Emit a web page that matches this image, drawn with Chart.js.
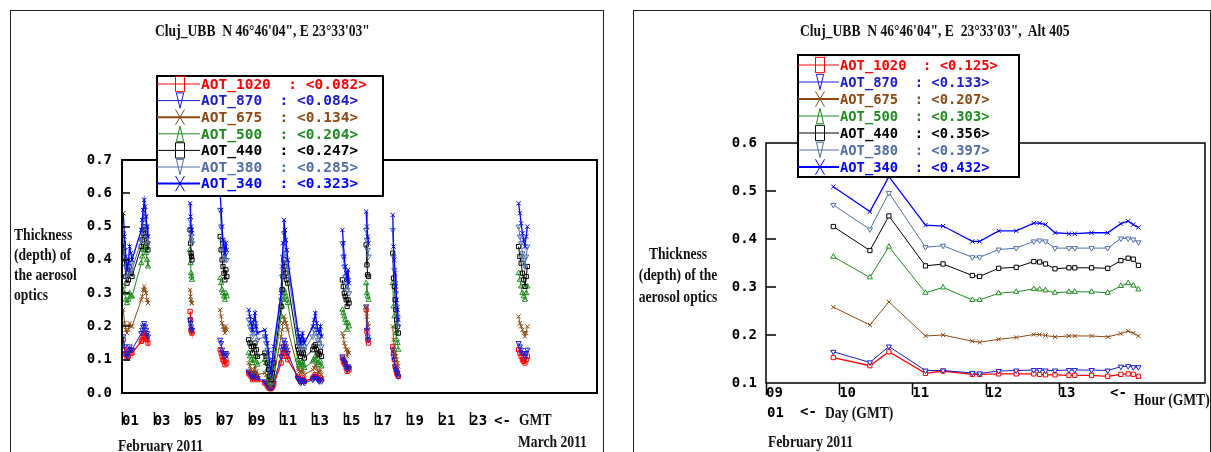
<!DOCTYPE html>
<html>
<head>
<meta charset="utf-8">
<script src="https://cdn.jsdelivr.net/npm/chart.js@4/dist/chart.umd.min.js"></script>
<style>
  body { margin: 0; background: #fff; width: 1211px; height: 452px; overflow: hidden; position: relative; }
  canvas { position: absolute; }
  .panel { position: absolute; border: 1px solid #222; border-bottom: none; }
  .serif { position: absolute; font-family: 'Liberation Serif', 'Times New Roman', serif; font-weight: bold;
           font-size: 17px; line-height: 16px; white-space: pre; transform: scaleX(0.8); transform-origin: 0 50%; color: #111; }
  .mono { position: absolute; font-family: 'DejaVu Sans Mono', monospace; font-weight: bold; font-size: 14px;
          line-height: 14px; white-space: pre; color: #000; }
  .center { text-align: center; transform-origin: 50% 50%; }
</style>
</head>
<body>
<div class="panel" style="left:10px;top:10px;width:592px;height:460px"></div>
<div class="panel" style="left:633px;top:10px;width:576px;height:460px"></div>
<canvas id="febChart" width="593" height="442" style="left:10px;top:10px"></canvas>
<canvas id="dayChart" width="577" height="442" style="left:633px;top:10px"></canvas>

<div class="serif" style="left:155px;top:23px">Cluj_UBB  N 46°46'04", E 23°33'03"</div>
<div class="serif" style="left:14px;top:227px">Thickness</div>
<div class="serif" style="left:14px;top:247px">(depth) of</div>
<div class="serif" style="left:14px;top:267px">the aerosol</div>
<div class="serif" style="left:14px;top:287px">optics</div>
<div class="mono" style="left:494px;top:413px">&lt;-</div>
<div class="serif" style="left:519px;top:412px">GMT</div>
<div class="serif" style="left:118px;top:438px">February 2011</div>
<div class="serif" style="left:518px;top:434px">March 2011</div>

<div class="serif" style="left:800px;top:23px">Cluj_UBB  N 46°46'04", E  23°33'03",  Alt 405</div>
<div class="serif center" style="left:608px;width:140px;top:246px">Thickness</div>
<div class="serif center" style="left:608px;width:140px;top:267px">(depth) of the</div>
<div class="serif center" style="left:608px;width:140px;top:289px">aerosol optics</div>
<div class="mono" style="left:1110px;top:385px">&lt;-</div>
<div class="serif" style="left:1134px;top:392px">Hour (GMT)</div>
<div class="mono" style="left:767px;top:405px">01</div>
<div class="mono" style="left:800px;top:404px">&lt;-</div>
<div class="serif" style="left:825px;top:405px">Day (GMT)</div>
<div class="serif" style="left:768px;top:434px">February 2011</div>

<script>
// series, in legend order
const seriesNames = ['AOT_1020', 'AOT_870', 'AOT_675', 'AOT_500', 'AOT_440', 'AOT_380', 'AOT_340'];
const seriesColors = ['#ff0000', '#1c1cc8', '#8b4a14', '#1e8c1e', '#000000', '#4f6ea8', '#0000ff'];
const seriesMarkers = ['rect', 'triDown', 'crossRot', 'triUp', 'rect', 'triDown', 'crossRot'];
const febMeans = ['0.082', '0.084', '0.134', '0.204', '0.247', '0.285', '0.323'];
const dayMeans = ['0.125', '0.133', '0.207', '0.303', '0.356', '0.397', '0.432'];

// left chart: February 2011, x = day (null = break in the line)
const febTimes = [
  1.08, 1.16, 1.24, 1.32, 1.40, 1.48, 1.56, 1.63,
  2.22, 2.28, 2.34, 2.40, 2.46, 2.52, 2.58, 2.64,
  null,
  5.30, 5.33, 5.36, 5.39, 5.42,
  null,
  7.20, 7.26, 7.32, 7.38, 7.44, 7.50, 7.56, 7.62,
  null,
  9.00, 9.08, 9.16, 9.24, 9.32, 9.40, 9.48, 9.56,
  10.02, 10.10, 10.18, 10.26, 10.34, 10.42, 10.50, 10.58,
  11.05, 11.11, 11.17, 11.23, 11.29, 11.35, 11.41, 11.47,
  12.10, 12.16, 12.22, 12.28, 12.34, 12.40, 12.46, 12.52,
  13.05, 13.13, 13.21, 13.29, 13.37, 13.45, 13.53, 13.60,
  null,
  14.92, 14.98, 15.04, 15.10, 15.16, 15.22, 15.28, 15.34,
  null,
  16.42, 16.47, 16.52, 16.57,
  null,
  18.10, 18.15, 18.20, 18.25, 18.30, 18.35, 18.40, 18.45,
  null,
  26.05, 26.13, 26.21, 26.29, 26.37, 26.45, 26.53, 26.60
];
const aot1020Feb = [
  0.16, 0.13, 0.115, 0.105, 0.11, 0.13, 0.12, 0.12,
  0.155, 0.16, 0.17, 0.18, 0.17, 0.165, 0.16, 0.15,
  null,
  0.245, 0.22, 0.19, 0.185, 0.18,
  null,
  0.13, 0.12, 0.11, 0.10, 0.095, 0.085, 0.10, 0.09,
  null,
  0.06, 0.055, 0.05, 0.04, 0.045, 0.055, 0.045, 0.04,
  0.03, 0.028, 0.022, 0.017, 0.013, 0.013, 0.018, 0.025,
  0.09, 0.11, 0.12, 0.14, 0.13, 0.12, 0.11, 0.10,
  0.05, 0.045, 0.04, 0.035, 0.04, 0.045, 0.04, 0.035,
  0.045, 0.05, 0.055, 0.05, 0.045, 0.04, 0.045, 0.04,
  null,
  0.105, 0.095, 0.09, 0.085, 0.075, 0.065, 0.075, 0.07,
  null,
  0.25, 0.185, 0.16, 0.15,
  null,
  0.14, 0.12, 0.10, 0.08, 0.07, 0.06, 0.055, 0.05,
  null,
  0.13, 0.12, 0.11, 0.10, 0.095, 0.09, 0.10, 0.11
];
const aot870Feb = [
  0.17, 0.14, 0.12, 0.11, 0.12, 0.14, 0.13, 0.13,
  0.18, 0.19, 0.20, 0.21, 0.20, 0.19, 0.18, 0.17,
  null,
  0.22, 0.21, 0.20, 0.19, 0.19,
  null,
  0.16, 0.15, 0.13, 0.12, 0.12, 0.11, 0.12, 0.115,
  null,
  0.065, 0.06, 0.055, 0.045, 0.05, 0.06, 0.05, 0.045,
  0.035, 0.03, 0.025, 0.02, 0.015, 0.015, 0.02, 0.03,
  0.11, 0.13, 0.14, 0.16, 0.15, 0.14, 0.13, 0.12,
  0.045, 0.04, 0.035, 0.03, 0.035, 0.04, 0.035, 0.03,
  0.04, 0.045, 0.05, 0.045, 0.04, 0.035, 0.04, 0.035,
  null,
  0.11, 0.10, 0.095, 0.09, 0.08, 0.07, 0.08, 0.075,
  null,
  0.26, 0.19, 0.17, 0.16,
  null,
  0.13, 0.11, 0.10, 0.08, 0.07, 0.065, 0.06, 0.05,
  null,
  0.15, 0.14, 0.13, 0.12, 0.12, 0.11, 0.12, 0.13
];
const aot675Feb = [
  0.25, 0.21, 0.19, 0.18, 0.19, 0.21, 0.20, 0.20,
  0.28, 0.29, 0.31, 0.32, 0.31, 0.30, 0.28, 0.27,
  null,
  0.31, 0.29, 0.28, 0.27, 0.27,
  null,
  0.25, 0.23, 0.21, 0.20, 0.19, 0.18, 0.20, 0.19,
  null,
  0.09, 0.08, 0.07, 0.06, 0.07, 0.08, 0.065, 0.055,
  0.06, 0.055, 0.045, 0.03, 0.02, 0.02, 0.03, 0.05,
  0.17, 0.19, 0.21, 0.23, 0.22, 0.21, 0.20, 0.19,
  0.075, 0.07, 0.065, 0.06, 0.065, 0.07, 0.06, 0.055,
  0.07, 0.075, 0.085, 0.075, 0.065, 0.06, 0.07, 0.055,
  null,
  0.18, 0.17, 0.15, 0.14, 0.13, 0.11, 0.13, 0.12,
  null,
  0.26, 0.23, 0.21, 0.20,
  null,
  0.20, 0.16, 0.14, 0.12, 0.11, 0.10, 0.09, 0.08,
  null,
  0.23, 0.21, 0.20, 0.19, 0.18, 0.17, 0.18, 0.20
];
const aot500Feb = [
  0.32, 0.30, 0.28, 0.27, 0.28, 0.30, 0.29, 0.29,
  0.39, 0.41, 0.43, 0.44, 0.43, 0.42, 0.40, 0.38,
  null,
  0.43, 0.39, 0.36, 0.35, 0.34,
  null,
  0.345, 0.33, 0.31, 0.30, 0.29, 0.28, 0.30, 0.29,
  null,
  0.12, 0.11, 0.10, 0.09, 0.10, 0.11, 0.095, 0.085,
  0.10, 0.09, 0.07, 0.05, 0.035, 0.03, 0.05, 0.07,
  0.23, 0.26, 0.28, 0.31, 0.30, 0.29, 0.28, 0.27,
  0.10, 0.09, 0.085, 0.08, 0.09, 0.095, 0.085, 0.075,
  0.095, 0.10, 0.11, 0.10, 0.09, 0.085, 0.095, 0.08,
  null,
  0.25, 0.24, 0.23, 0.22, 0.21, 0.19, 0.21, 0.20,
  null,
  0.33, 0.30, 0.29, 0.28,
  null,
  0.33, 0.26, 0.23, 0.20, 0.18, 0.16, 0.15, 0.13,
  null,
  0.36, 0.34, 0.32, 0.30, 0.29, 0.28, 0.30, 0.32
];
const aot440Feb = [
  0.45, 0.39, 0.35, 0.33, 0.34, 0.38, 0.36, 0.35,
  0.44, 0.46, 0.48, 0.50, 0.49, 0.47, 0.45, 0.43,
  null,
  0.49, 0.45, 0.42, 0.41, 0.40,
  null,
  0.47, 0.43, 0.40, 0.38, 0.36, 0.34, 0.37, 0.35,
  null,
  0.16, 0.15, 0.14, 0.12, 0.14, 0.15, 0.13, 0.11,
  0.12, 0.11, 0.09, 0.07, 0.05, 0.04, 0.06, 0.09,
  0.26, 0.31, 0.35, 0.40, 0.38, 0.36, 0.34, 0.33,
  0.14, 0.13, 0.12, 0.11, 0.12, 0.13, 0.12, 0.105,
  0.13, 0.14, 0.145, 0.13, 0.12, 0.115, 0.125, 0.11,
  null,
  0.34, 0.32, 0.30, 0.29, 0.28, 0.26, 0.28, 0.27,
  null,
  0.445, 0.385, 0.355, 0.35,
  null,
  0.42, 0.345, 0.32, 0.28, 0.25, 0.22, 0.20, 0.18,
  null,
  0.44, 0.41, 0.39, 0.36, 0.34, 0.32, 0.35, 0.38
];
const aot380Feb = [
  0.48, 0.43, 0.38, 0.35, 0.36, 0.40, 0.39, 0.37,
  0.46, 0.49, 0.52, 0.55, 0.53, 0.50, 0.47, 0.45,
  null,
  0.52, 0.49, 0.47, 0.46, 0.45,
  null,
  0.55, 0.50, 0.46, 0.43, 0.41, 0.40, 0.42, 0.40,
  null,
  0.22, 0.20, 0.19, 0.17, 0.19, 0.21, 0.18, 0.16,
  0.17, 0.15, 0.13, 0.10, 0.07, 0.05, 0.09, 0.12,
  0.28, 0.35, 0.41, 0.48, 0.45, 0.42, 0.39, 0.37,
  0.17, 0.15, 0.14, 0.13, 0.15, 0.16, 0.14, 0.13,
  0.17, 0.19, 0.20, 0.18, 0.16, 0.15, 0.17, 0.14,
  null,
  0.45, 0.41, 0.38, 0.35, 0.33, 0.31, 0.34, 0.30,
  null,
  0.49, 0.46, 0.43, 0.41,
  null,
  0.49, 0.41, 0.37, 0.33, 0.30, 0.26, 0.23, 0.20,
  null,
  0.50, 0.47, 0.45, 0.42, 0.40, 0.38, 0.41, 0.44
];
const aot340Feb = [
  0.54, 0.47, 0.41, 0.37, 0.39, 0.44, 0.42, 0.40,
  0.49, 0.52, 0.55, 0.58, 0.56, 0.53, 0.50, 0.47,
  null,
  0.57, 0.53, 0.50, 0.49, 0.48,
  null,
  0.60, 0.55, 0.50, 0.46, 0.44, 0.42, 0.45, 0.43,
  null,
  0.25, 0.23, 0.21, 0.19, 0.22, 0.24, 0.20, 0.18,
  0.19, 0.17, 0.15, 0.12, 0.08, 0.06, 0.10, 0.14,
  0.30, 0.38, 0.45, 0.52, 0.49, 0.46, 0.43, 0.40,
  0.19, 0.17, 0.16, 0.15, 0.17, 0.18, 0.16, 0.15,
  0.20, 0.22, 0.24, 0.21, 0.19, 0.18, 0.20, 0.17,
  null,
  0.49, 0.45, 0.41, 0.38, 0.36, 0.34, 0.37, 0.33,
  null,
  0.545, 0.50, 0.47, 0.45,
  null,
  0.535, 0.44, 0.40, 0.36, 0.32, 0.28, 0.25, 0.22,
  null,
  0.57, 0.54, 0.51, 0.48, 0.46, 0.44, 0.47, 0.50
];

// right chart: 1 February 2011, x = hour GMT
const dayHours = [9.92, 10.42, 10.68, 11.18, 11.42, 11.82, 11.92, 12.18, 12.42, 12.66, 12.74,
                  12.82, 12.95, 13.14, 13.22, 13.45, 13.67, 13.85, 13.95, 14.02, 14.09];
const aot1020Day = [0.153, 0.136, 0.165, 0.120, 0.125, 0.118, 0.118, 0.119, 0.119, 0.119, 0.118,
                    0.117, 0.117, 0.116, 0.116, 0.116, 0.114, 0.118, 0.119, 0.118, 0.114];
const aot870Day = [0.165, 0.143, 0.176, 0.126, 0.126, 0.121, 0.120, 0.125, 0.126, 0.127, 0.127,
                   0.126, 0.126, 0.127, 0.127, 0.127, 0.126, 0.134, 0.135, 0.133, 0.133];
const aot675Day = [0.258, 0.221, 0.269, 0.198, 0.200, 0.187, 0.185, 0.191, 0.195, 0.201, 0.201,
                   0.199, 0.196, 0.198, 0.198, 0.198, 0.196, 0.203, 0.208, 0.204, 0.198];
const aot500Day = [0.363, 0.320, 0.384, 0.288, 0.299, 0.273, 0.273, 0.287, 0.290, 0.296, 0.295,
                   0.293, 0.288, 0.290, 0.290, 0.290, 0.288, 0.302, 0.308, 0.303, 0.295];
const aot440Day = [0.426, 0.376, 0.448, 0.344, 0.348, 0.324, 0.322, 0.339, 0.341, 0.353, 0.352,
                   0.348, 0.338, 0.340, 0.340, 0.340, 0.339, 0.355, 0.360, 0.358, 0.345];
const aot380Day = [0.471, 0.420, 0.496, 0.383, 0.386, 0.362, 0.362, 0.378, 0.381, 0.395, 0.397,
                   0.395, 0.381, 0.381, 0.381, 0.381, 0.381, 0.401, 0.401, 0.399, 0.393];
const aot340Day = [0.509, 0.457, 0.530, 0.429, 0.427, 0.395, 0.395, 0.417, 0.417, 0.433, 0.433,
                   0.430, 0.413, 0.411, 0.411, 0.413, 0.413, 0.432, 0.437, 0.430, 0.424];

const febSeries = [aot1020Feb, aot870Feb, aot675Feb, aot500Feb, aot440Feb, aot380Feb, aot340Feb];
const daySeries = [aot1020Day, aot870Day, aot675Day, aot500Day, aot440Day, aot380Day, aot340Day];

function toPoints(times, vals) {
  // a null time keeps the previous x and breaks the line
  return vals.map((v, i) => ({ x: times[i] !== null ? times[i] : times[i - 1], y: v }));
}

function chartStyle(marker) {
  if (marker === 'triDown') return { pointStyle: 'triangle', pointRotation: 180 };
  if (marker === 'triUp') return { pointStyle: 'triangle', pointRotation: 0 };
  return { pointStyle: marker, pointRotation: 0 };
}

function drawMarker(ctx, marker, x, y, r, sy) {
  ctx.save();
  ctx.translate(x, y);
  ctx.scale(1, sy);
  ctx.beginPath();
  if (marker === 'rect') {
    ctx.rect(-r, -r, 2 * r, 2 * r);
  } else if (marker === 'triUp') {
    ctx.moveTo(0, -r); ctx.lineTo(r * 0.8, r); ctx.lineTo(-r * 0.8, r); ctx.closePath();
  } else if (marker === 'triDown') {
    ctx.moveTo(0, r); ctx.lineTo(r * 0.8, -r); ctx.lineTo(-r * 0.8, -r); ctx.closePath();
  } else {
    ctx.moveTo(-r, -r); ctx.lineTo(r, r); ctx.moveTo(r, -r); ctx.lineTo(-r, r);
  }
  ctx.restore();
  ctx.stroke();
}

const panelPlugin = {
  id: 'panel',
  afterDatasetsDraw(chart, args, o) {
    const { ctx, chartArea: a, scales: { x, y } } = chart;
    ctx.save();
    ctx.strokeStyle = '#000';
    ctx.lineWidth = o.frame;
    ctx.strokeRect(a.left, a.top, a.right - a.left, a.bottom - a.top);
    ctx.lineWidth = 1.5;
    ctx.beginPath();
    y.ticks.forEach(t => {
      if (t.value > y.min + 1e-6 && t.value < y.max - 1e-6) {
        const py = Math.round(y.getPixelForValue(t.value));
        ctx.moveTo(a.left, py); ctx.lineTo(a.left + o.yTick, py);
      }
    });
    x.ticks.forEach(t => {
      if (t.value <= o.lastTick) {
        const px = Math.round(x.getPixelForValue(t.value)) + 0.5;
        ctx.moveTo(px, a.bottom + o.xTickFrom); ctx.lineTo(px, a.bottom + o.xTickTo);
      }
    });
    ctx.stroke();
    ctx.restore();
  },
  afterDraw(chart, args, o) {
    const ctx = chart.ctx;
    const b = o.box;
    ctx.save();
    ctx.fillStyle = '#fff';
    ctx.fillRect(b.x, b.y, b.w, b.h);
    ctx.strokeStyle = '#000';
    ctx.lineWidth = 2;
    ctx.strokeRect(b.x, b.y, b.w, b.h);
    ctx.font = 'bold ' + o.fontSize + 'px "DejaVu Sans Mono", monospace';
    ctx.textBaseline = 'middle';
    seriesNames.forEach((name, i) => {
      const ry = b.rowY + i * b.rowStep;
      ctx.strokeStyle = seriesColors[i];
      ctx.lineWidth = (i === 2 || i === 6) ? 2 : 1;
      ctx.beginPath();
      ctx.moveTo(b.x, ry); ctx.lineTo(b.textX - 1, ry);
      ctx.stroke();
      ctx.lineWidth = 1;
      drawMarker(ctx, seriesMarkers[i], b.markX, ry, 4.5, 1.7);
      ctx.fillStyle = seriesColors[i];
      ctx.fillText(name + '  : <' + o.means[i] + '>', b.textX, ry + 1);
    });
    ctx.restore();
  }
};

const monoFont = { family: 'DejaVu Sans Mono', size: 14, weight: 'bold' };

function makeChart(id, times, series, cfg) {
  const datasets = series.map((vals, i) => Object.assign({
    label: seriesNames[i],
    data: toPoints(times, vals),
    borderColor: seriesColors[i],
    backgroundColor: cfg.fill,
    pointBorderColor: seriesColors[i],
    pointBackgroundColor: cfg.fill,
    borderWidth: (i === 0 || i === 6) ? cfg.line + 0.3 : cfg.line,
    pointRadius: cfg.radius,
    pointBorderWidth: 1,
    spanGaps: false,
    order: 7 - i
  }, chartStyle(seriesMarkers[i])));

  return new Chart(document.getElementById(id), {
    type: 'line',
    data: { datasets },
    plugins: [panelPlugin],
    options: {
      responsive: false,
      animation: false,
      devicePixelRatio: 1,
      layout: { padding: { top: cfg.top, right: cfg.right, left: 0, bottom: 0 } },
      plugins: {
        legend: { display: false },
        tooltip: { enabled: false },
        panel: cfg.panel
      },
      scales: {
        x: {
          type: 'linear', min: cfg.xMin, max: cfg.xMax,
          afterFit: s => { s.height = cfg.xHeight; s.paddingLeft = 0; s.paddingRight = 0; },
          grid: { display: false, drawTicks: false },
          border: { display: false },
          ticks: {
            stepSize: cfg.xStep, autoSkip: false, maxRotation: 0, align: 'start',
            padding: cfg.xPad, font: monoFont, color: '#000',
            callback: v => v <= cfg.panel.lastTick ? String(Math.round(v)).padStart(2, '0') : ''
          }
        },
        y: {
          min: cfg.yMin, max: cfg.yMax,
          afterFit: s => { s.width = cfg.yWidth; s.paddingTop = 0; s.paddingBottom = 0; },
          grid: { display: false, drawTicks: false },
          border: { display: false },
          ticks: { stepSize: 0.1, padding: cfg.yPad, font: monoFont, color: '#000',
                   callback: v => v.toFixed(1) }
        }
      }
    }
  });
}

makeChart('febChart', febTimes, febSeries, {
  fill: 'transparent', line: 1, radius: 3,
  top: 150, right: 6, xHeight: 59, yWidth: 112,
  xMin: 1, xMax: 31, xStep: 2, xPad: 20, yMin: 0, yMax: 0.7, yPad: 10,
  panel: {
    frame: 2, yTick: 8, lastTick: 23, xTickFrom: 19, xTickTo: 32, means: febMeans, fontSize: 14.5,
    box: { x: 147, y: 66, w: 226, h: 120, rowY: 74, rowStep: 16.6, markX: 170, textX: 191 }
  }
});

makeChart('dayChart', dayHours, daySeries, {
  fill: '#fff', line: 1, radius: 3,
  top: 133, right: 3, xHeight: 69, yWidth: 133,
  xMin: 9, xMax: 15, xStep: 1, xPad: 2, yMin: 0.1, yMax: 0.6, yPad: 9,
  panel: {
    frame: 1.5, yTick: 10, lastTick: 13, xTickFrom: 0, xTickTo: 12, means: dayMeans, fontSize: 13.8,
    box: { x: 165, y: 45, w: 221, h: 122, rowY: 55, rowStep: 17, markX: 187, textX: 207 }
  }
});
</script>
</body>
</html>
